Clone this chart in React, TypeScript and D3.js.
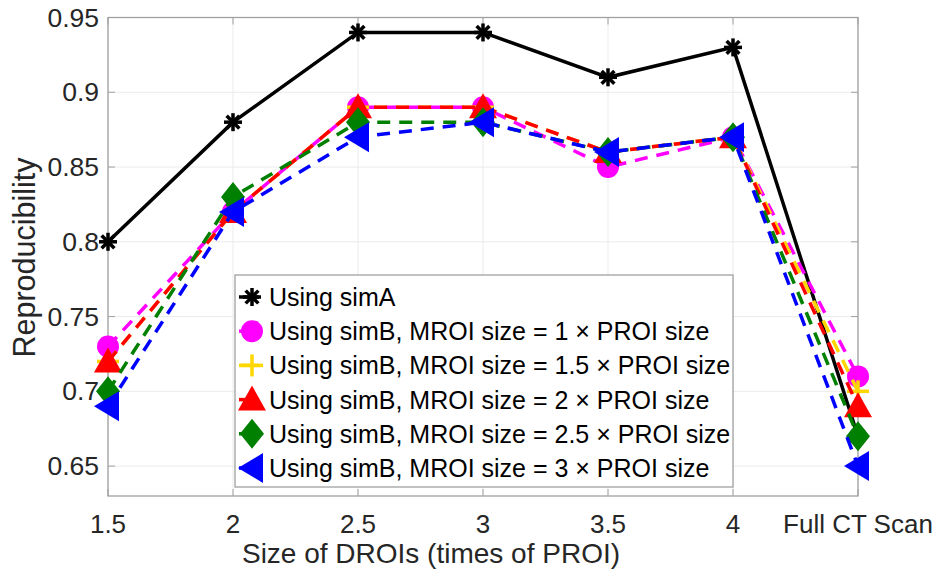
import React from "react";
import * as d3 from "d3";

const categories = ["1.5", "2", "2.5", "3", "3.5", "4", "Full CT Scan"];
const simA = [0.8, 0.88, 0.94, 0.94, 0.91, 0.93, 0.67];
const simB1 = [0.73, 0.82, 0.89, 0.89, 0.85, 0.87, 0.71];
const simB15 = [0.72, 0.82, 0.89, 0.89, 0.86, 0.87, 0.7];
const simB2 = [0.72, 0.82, 0.89, 0.89, 0.86, 0.87, 0.69];
const simB25 = [0.7, 0.83, 0.88, 0.88, 0.86, 0.87, 0.67];
const simB3 = [0.69, 0.82, 0.87, 0.88, 0.86, 0.87, 0.65];
const yTicks = [0.65, 0.7, 0.75, 0.8, 0.85, 0.9, 0.95];

const series = [
  { name: "Using simA", values: simA, color: "#000000", marker: "star", dashed: false },
  { name: "Using simB, MROI size = 1 \u00d7 PROI size", values: simB1, color: "#ff00ff", marker: "circle", dashed: true },
  { name: "Using simB, MROI size = 1.5 \u00d7 PROI size", values: simB15, color: "#ffd700", marker: "plus", dashed: true },
  { name: "Using simB, MROI size = 2 \u00d7 PROI size", values: simB2, color: "#ff0000", marker: "triangle", dashed: true },
  { name: "Using simB, MROI size = 2.5 \u00d7 PROI size", values: simB25, color: "#008000", marker: "diamond", dashed: true },
  { name: "Using simB, MROI size = 3 \u00d7 PROI size", values: simB3, color: "#0000ff", marker: "left", dashed: true },
];

const font = "'Liberation Sans', Arial, sans-serif";

function Marker({ type, color, x, y }: { type: string; color: string; x: number; y: number }) {
  if (type === "star") {
    const r = 9;
    return (
      <g transform={`translate(${x},${y})`} stroke={color} strokeWidth={3.5}>
        {[0, 45, 90, 135].map((a) => (
          <line key={a} x1={-r} y1={0} x2={r} y2={0} transform={`rotate(${a})`} />
        ))}
      </g>
    );
  }
  if (type === "circle") return <circle cx={x} cy={y} r={11} fill={color} />;
  if (type === "plus")
    return (
      <g stroke={color} strokeWidth={3.5}>
        <line x1={x - 11} y1={y} x2={x + 11} y2={y} />
        <line x1={x} y1={y - 11} x2={x} y2={y + 11} />
      </g>
    );
  if (type === "triangle")
    return <path d={`M${x},${y - 14}L${x + 14},${y + 11}L${x - 14},${y + 11}Z`} fill={color} />;
  if (type === "diamond")
    return <path d={`M${x},${y - 15}L${x + 12},${y}L${x},${y + 15}L${x - 12},${y}Z`} fill={color} />;
  return <path d={`M${x - 14},${y}L${x + 11},${y - 15}L${x + 11},${y + 15}Z`} fill={color} />;
}

export default function App() {
  const left = 108, right = 858, top = 17.5, bottom = 496;
  const x = d3.scalePoint<string>().domain(categories).range([left, right]);
  const y = d3.scaleLinear().domain([0.63, 0.95]).range([bottom, top]);
  const line = d3
    .line<number>()
    .x((_, i) => x(categories[i]) as number)
    .y((d) => y(d));

  const lg = { x: 235, y: 275, w: 498, h: 212, row: 34.2 };

  return (
    <svg width={947} height={578} style={{ position: "absolute", left: 0, top: 0 }} fontFamily={font}>
      <rect width={947} height={578} fill="#fff" />
      {/* grid */}
      {categories.map((c) => (
        <line key={c} x1={x(c)} x2={x(c)} y1={top} y2={bottom} stroke="#ebebeb" />
      ))}
      {yTicks.map((t) => (
        <line key={t} x1={left} x2={right} y1={y(t)} y2={y(t)} stroke="#ebebeb" />
      ))}
      {/* axes box + ticks */}
      <rect x={left} y={top} width={right - left} height={bottom - top} fill="none" stroke="#a0a0a0" strokeWidth={1.3} />
      {categories.map((c) => (
        <g key={c} stroke="#a0a0a0">
          <line x1={x(c)} x2={x(c)} y1={bottom} y2={bottom - 7} />
          <line x1={x(c)} x2={x(c)} y1={top} y2={top + 7} />
        </g>
      ))}
      {yTicks.map((t) => (
        <g key={t} stroke="#a0a0a0">
          <line x1={left} x2={left + 7} y1={y(t)} y2={y(t)} />
          <line x1={right} x2={right - 7} y1={y(t)} y2={y(t)} />
        </g>
      ))}
      {/* series */}
      {series.map((s) => (
        <g key={s.name}>
          <path
            d={line(s.values) || ""}
            fill="none"
            stroke={s.color}
            strokeWidth={3.5}
            strokeDasharray={s.dashed ? "13,9" : undefined}
          />
          {s.values.map((v, i) => (
            <Marker key={i} type={s.marker} color={s.color} x={x(categories[i]) as number} y={y(v)} />
          ))}
        </g>
      ))}
      {/* tick labels */}
      {yTicks.map((t) => (
        <text key={t} x={99} y={y(t) + 9} textAnchor="end" fontSize={26.5} fill="#262626">
          {t}
        </text>
      ))}
      {categories.map((c) => (
        <text key={c} x={x(c)} y={533} textAnchor="middle" fontSize={26} fill="#262626">
          {c}
        </text>
      ))}
      <text x={431} y={563} textAnchor="middle" fontSize={28} fill="#262626">
        Size of DROIs (times of PROI)
      </text>
      <text
        transform={`translate(35,257.5) rotate(-90)`}
        textAnchor="middle"
        fontSize={30.5}
        fill="#262626"
      >
        Reproducibility
      </text>
      {/* legend */}
      <rect x={lg.x} y={lg.y} width={lg.w} height={lg.h} fill="#fff" stroke="#a0a0a0" strokeWidth={1.3} />
      {series.map((s, i) => {
        const cy = lg.y + 22 + i * lg.row;
        return (
          <g key={s.name}>
            <line x1={lg.x + 4} x2={lg.x + 24} y1={cy} y2={cy} stroke={s.color} strokeWidth={3.5} />
            <Marker type={s.marker} color={s.color} x={lg.x + 17} y={cy} />
            <text x={lg.x + 34} y={cy + 9} fontSize={25} fill="#000">
              {s.name}
            </text>
          </g>
        );
      })}
    </svg>
  );
}
